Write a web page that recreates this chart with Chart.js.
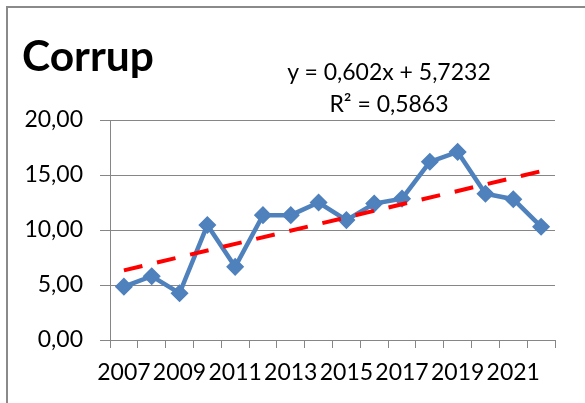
<!DOCTYPE html>
<html>
<head>
<meta charset="utf-8">
<script src="https://cdn.jsdelivr.net/npm/chart.js@4.4.0/dist/chart.umd.min.js"></script>
<style>
  html, body { margin: 0; padding: 0; background: #fff; width: 585px; height: 403px; overflow: hidden; }
  #wrap { position: relative; width: 585px; height: 403px; }
  #frame { position: absolute; left: 6px; top: 6px; width: 800px; height: 800px; border: 2px solid #8a8a8a; box-sizing: border-box; }
  canvas { position: absolute; left: 0; top: 0; }
  .txt { position: absolute; font-family: Lato, "Open Sans", sans-serif; color: #000; white-space: nowrap; }
  #title { left: 22px; top: 34px; font-size: 42.5px; line-height: 42.5px; font-weight: bold; }
  #eq { left: 279px; width: 220px; top: 55px; font-size: 23px; line-height: 32px; text-align: center; }
</style>
</head>
<body>
<div id="wrap">
  <div id="frame"></div>
  <canvas id="c" width="585" height="403"></canvas>
  <div id="title" class="txt">Corrup</div>
  <div id="eq" class="txt">y = 0,602x + 5,7232<br>R² = 0,5863</div>
</div>
<script>
// ---- data ----
const years = ['2007','2008','2009','2010','2011','2012','2013','2014','2015','2016','2017','2018','2019','2020','2021','2022'];
const corrup = [4.85, 5.8, 4.25, 10.45, 6.65, 11.35, 11.35, 12.5, 10.9, 12.4, 12.85, 16.2, 17.1, 13.3, 12.8, 10.3];
// linear trendline end values (as drawn; y = 0,602x + 5,7232)
const trend = [6.33, null, null, null, null, null, null, null, null, null, null, null, null, null, null, 15.35];
const yTickValues = [0, 5, 10, 15, 20];

const grey = '#868686';
const tickFont = { family: 'Lato, "Open Sans", sans-serif', size: 23 };

new Chart(document.getElementById('c'), {
  type: 'line',
  data: {
    labels: years,
    datasets: [
      {
        label: 'Linear (Corrup)',
        data: trend,
        spanGaps: true,
        borderColor: '#FF0000',
        borderWidth: 4,
        borderDash: [19, 15],
        borderCapStyle: 'butt',
        pointRadius: 0,
        fill: false,
        tension: 0
      },
      {
        label: 'Corrup',
        data: corrup,
        borderColor: '#4F81BD',
        backgroundColor: '#4F81BD',
        borderWidth: 4.5,
        pointStyle: 'rectRot',
        pointRadius: 8,
        pointBorderWidth: 1.5,
        pointBackgroundColor: '#4F81BD',
        pointBorderColor: '#4F81BD',
        fill: false,
        tension: 0
      }
    ]
  },
  options: {
    responsive: false,
    animation: false,
    layout: { padding: { left: 0, right: 30, top: 120, bottom: 0 } },
    plugins: { legend: { display: false }, title: { display: false }, tooltip: { enabled: false } },
    scales: {
      x: {
        type: 'category',
        offset: true,
        grid: { display: true, drawOnChartArea: false, drawTicks: true, tickLength: 8, color: grey, lineWidth: 1, offset: true },
        border: { display: true, color: grey, width: 1 },
        ticks: {
          autoSkip: false,
          maxRotation: 0,
          minRotation: 0,
          padding: 11,
          color: '#000',
          font: tickFont,
          callback: function (v, i) { return i % 2 === 0 ? years[i] : ''; }
        },
        afterFit: function (s) { s.height = 63; }
      },
      y: {
        min: 0,
        max: 20,
        afterBuildTicks: function (s) { s.ticks = yTickValues.map(v => ({ value: v })); },
        grid: { display: true, drawOnChartArea: true, drawTicks: true, tickLength: 10, color: grey, lineWidth: 1 },
        border: { display: true, color: grey, width: 1 },
        ticks: {
          padding: 17,
          color: '#000',
          font: tickFont,
          callback: function (v) { return Number(v).toFixed(2).replace('.', ','); }
        },
        afterFit: function (s) { s.width = 110; }
      }
    }
  }
});
</script>
</body>
</html>
